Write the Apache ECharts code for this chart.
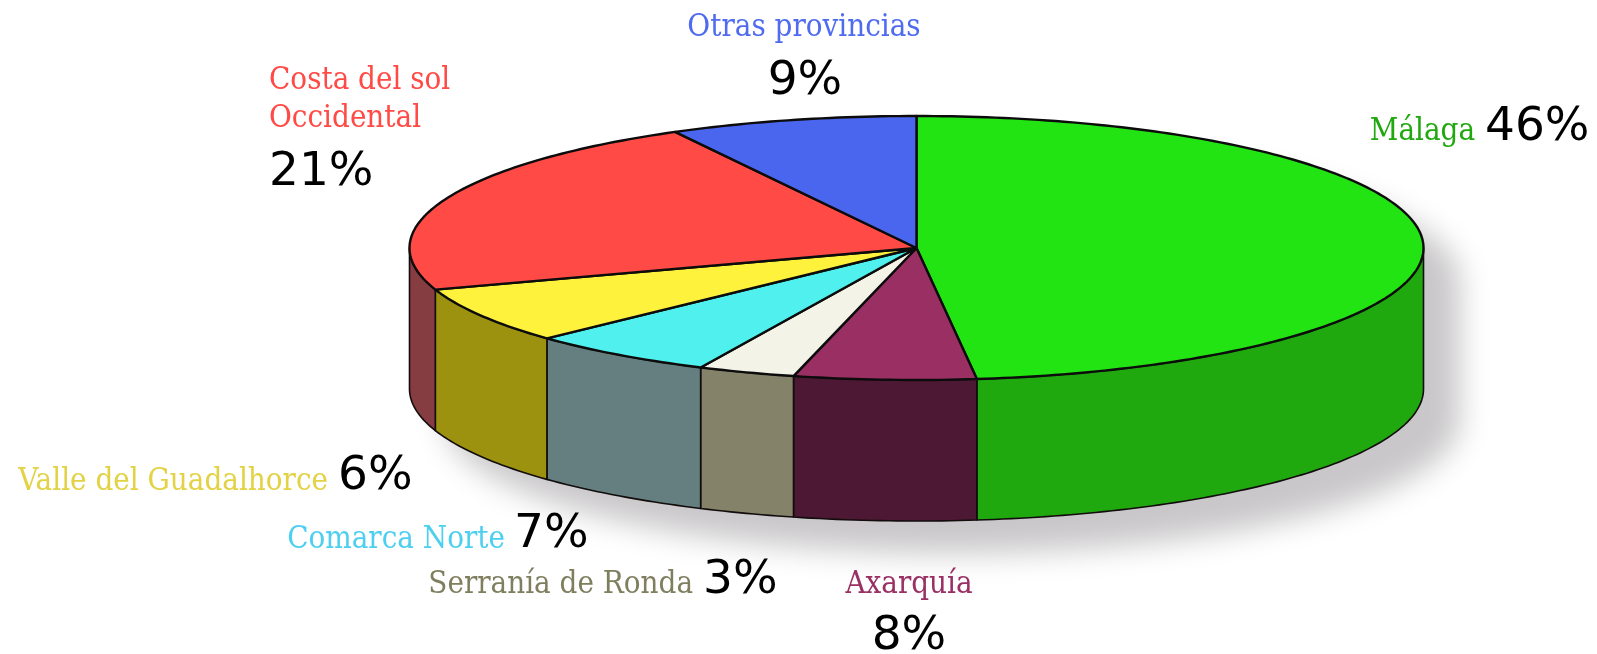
<!DOCTYPE html>
<html>
<head>
<meta charset="utf-8">
<style>
html,body{margin:0;padding:0;background:#fff;}
#pie-echarts{width:1597px;height:654px;}
</style>
<script src="https://cdn.jsdelivr.net/npm/echarts@6/dist/echarts.min.js"></script>
</head>
<body>
<div id="pie-echarts"></div>
<script>
var categories = ['Málaga','Axarquía','Serranía de Ronda','Comarca Norte','Valle del Guadalhorce','Costa del sol\nOccidental','Otras provincias'];
// printed percentages
var percents = [46,8,3,7,6,21,9];
// the slices in the picture are not quite the printed size, these are measured off the drawing
var drawnShares = [48.1,5.8,3.1,6,6.9,22.2,7.9];

var topColors = ['#22e412','#9a2f63','#f3f3e8','#4ff0ee','#fff23c','#ff4a45','#4b66ee'];
var wallColors = ['#1fa90f','#4d1833','#85826a','#657f80','#9c9210','#863d42','#333'];
var nameColors = ['#1fa90f','#9a2f63','#7f7f60','#4dcfef','#e2d244','#ff4a45','#4f6bef'];

// [x, y, align] of the name and of the percentage
var nameSpots = [[1475,132,'right'],[909,585,'center'],[693,585,'right'],[505,540,'right'],[328,482,'right'],[269,100,'left'],[804,28,'center']];
var percentSpots = [[1485,128,'left'],[909,637,'center'],[703,581,'left'],[514,535,'left'],[338,477,'left'],[269,173,'left'],[805,82,'center']];

var cx = 916.5, cy = 248, rx = 507, ry = 132, wallHeight = 141;

function ellipsePoint(deg,drop){
	var a = deg*Math.PI/180;
	return [cx+rx*Math.sin(a),cy-ry*Math.cos(a)+(drop||0)];
}

function arcPoints(from,to,drop){
	var pts = [], n = Math.max(2,Math.ceil(Math.abs(to-from)));
	for(var i=0;i<=n;i++){
		pts.push(ellipsePoint(from+(to-from)*i/n,drop));
	}
	return pts;
}

function sliceRange(index){
	var total = 0, sum = 0;
	for(var i=0;i<drawnShares.length;i++){
		total += drawnShares[i];
	}
	for(var j=0;j<index;j++){
		sum += drawnShares[j];
	}
	return [sum/total*360,(sum+drawnShares[index])/total*360];
}

function renderSlice(params,api){
	var range = sliceRange(params.dataIndex);
	var children = [];
	var from = Math.max(range[0],90), to = Math.min(range[1],270);
	if(to>from){
		children.push({
			type:'polygon',
			shape:{points:arcPoints(from,to,0).concat(arcPoints(to,from,wallHeight))},
			style:{fill:wallColors[params.dataIndex],stroke:'#120c0c',lineWidth:1.6,lineJoin:'round'}
		});
	}
	children.push({
		type:'polygon',
		z2:5,
		shape:{points:[[cx,cy]].concat(arcPoints(range[0],range[1],0))},
		style:{fill:topColors[params.dataIndex],stroke:'#0c0c0c',lineWidth:2.4,lineJoin:'round'}
	});
	return {type:'group',children:children};
}

function renderLabel(params,api){
	var i = params.dataIndex;
	return {
		type:'group',
		children:[{
			type:'text',
			style:{
				x:nameSpots[i][0],y:nameSpots[i][1],text:categories[i],
				align:nameSpots[i][2],verticalAlign:'middle',
				fill:nameColors[i],font:'31px "DejaVu Serif Condensed"',lineHeight:38
			}
		},{
			type:'text',
			style:{
				x:percentSpots[i][0],y:percentSpots[i][1],text:percents[i]+'%',
				align:percentSpots[i][2],verticalAlign:'middle',
				fill:'#000',font:'47px "DejaVu Sans"'
			}
		}]
	};
}

function pieEcharts(idName){
	var pieEcharts = echarts.init(document.getElementById(idName));
	var seriesData = categories.map(function(name,i){
		return {name:name,value:drawnShares[i]};
	});
	var outline = arcPoints(-90,90,0).concat(arcPoints(90,270,wallHeight));

	var option = {
		animation:false,
		backgroundColor:'#fff',
		graphic:[{
			type:'polygon',
			silent:true,
			z:-1,
			shape:{points:outline},
			style:{fill:'#c9c7c9',shadowBlur:30,shadowOffsetX:36,shadowOffsetY:32,shadowColor:'#c9c7c9'}
		}],
		series:[{
			type:'custom',
			coordinateSystem:'none',
			renderItem:renderSlice,
			data:seriesData,
			z:2
		},{
			type:'custom',
			coordinateSystem:'none',
			renderItem:renderLabel,
			data:seriesData,
			z:3
		}]
	};

	pieEcharts.setOption(option);
}

pieEcharts('pie-echarts');
</script>
</body>
</html>
